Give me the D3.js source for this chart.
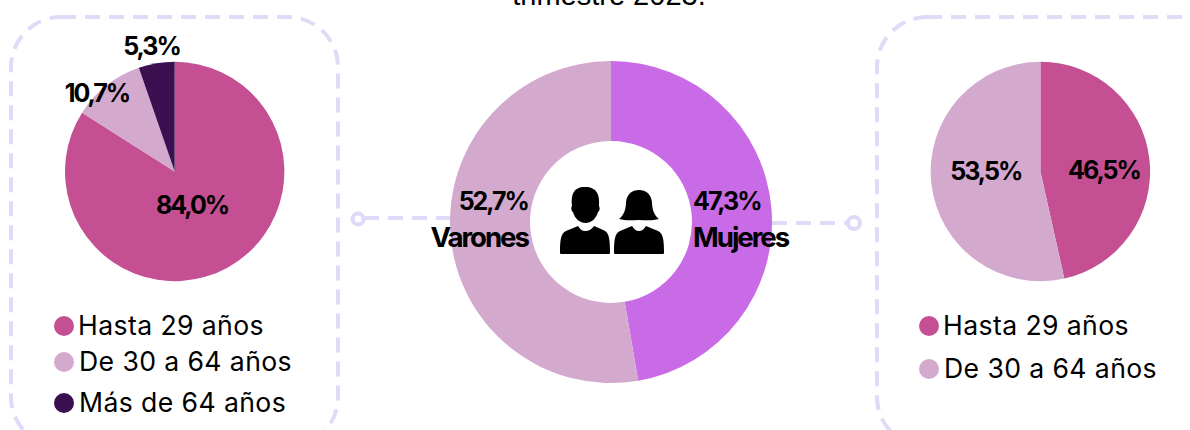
<!DOCTYPE html>
<html lang="es">
<head>
<meta charset="utf-8" />
<title>Empleo por sexo y edad</title>
<script src="https://cdn.jsdelivr.net/npm/d3@7"></script>
<style>
  html,body { margin:0; background:#fff; }
  svg { display:block; font-family:Inter,sans-serif; }
  .frame,.link { fill:none; stroke:#e0d9f7; stroke-width:4px; stroke-dasharray:15 9; }
  .dot { fill:#fff; stroke:#e0d9f7; stroke-width:4px; }
  .val { font-size:25px; font-weight:700; letter-spacing:-2px; fill:#000; text-anchor:middle; }
  .name { font-size:25px; font-weight:700; letter-spacing:-2px; fill:#000; }
  .sex { font-size:27.6px; }
  .leg { font-size:26.6px; font-weight:400; letter-spacing:.4px; fill:#000; }
  .title { font:29px "Liberation Sans",sans-serif; fill:#000; text-anchor:middle; }
</style>
</head>
<body>
<svg id="chart" width="1190" height="430"></svg>
<script>
const ageLabels = ['Hasta 29 años','De 30 a 64 años','Más de 64 años'];
const ageColors = ['#c45093','#d4a9ce','#3a1050'];
const womenAges = [84.0,10.7,5.3];
const menAges = [46.5,53.5];
const sexLabels = ['Mujeres','Varones'];
const sexValues = [47.3,52.7];
const sexColors = ['#c96be6','#d4a9ce'];
const titleText = 'trimestre 2023.';

const svg = d3.select('#chart');
const fmt = v => v.toFixed(1).replace('.',',')+'%';
const pie = d3.pie().sort(null);

svg.append('text').attr('class','title').attr('x',609).attr('y',5).text(titleText);

/* dashed boxes run off the bottom / right of the picture */
svg.append('rect').attr('class','frame').attr('x',11).attr('y',17).attr('width',327).attr('height',430).attr('rx',50);
svg.append('rect').attr('class','frame').attr('x',877).attr('y',17).attr('width',400).attr('height',430).attr('rx',50);

svg.append('path').attr('class','link').attr('d','M364,218H450');
svg.append('circle').attr('class','dot').attr('cx',358).attr('cy',219).attr('r',5.5);
svg.append('path').attr('class','link').attr('d','M772,223H847');
svg.append('circle').attr('class','dot').attr('cx',854).attr('cy',223).attr('r',6);

function agePie(values,cx,cy,r,labelPos){
  const arc = d3.arc().innerRadius(0).outerRadius(r);
  const g = svg.append('g').attr('transform',`translate(${cx},${cy})`);
  const arcs = pie(values);
  g.selectAll('path').data(arcs).join('path')
    .attr('d',arc)
    .attr('fill',(d,i)=>ageColors[i]);
  g.selectAll('text').data(arcs).join('text')
    .attr('class','val')
    .attr('transform',(d,i)=>{
      const p = labelPos[i];
      const c = d3.arc().innerRadius(p[0]).outerRadius(p[0]).centroid(d);
      return `translate(${c[0]+p[1]},${c[1]+p[2]})`;
    })
    .attr('dy','.36em')
    .text(d=>fmt(d.data));
}
agePie(womenAges,174.7,171.5,109.7,[[36,0,1.5],[110,-9.5,8],[128,-2,0.5]]);
agePie(menAges,1040.4,171.5,109.7,[[64,0,5.5],[64,9,-7.5]]);

/* middle donut */
const mid = svg.append('g').attr('transform','translate(611,222)');
const midArc = d3.arc().innerRadius(81).outerRadius(161);
mid.selectAll('path').data(pie(sexValues)).join('path')
  .attr('d',midArc)
  .attr('fill',(d,i)=>sexColors[i]);
[[82,'start'],[-83,'end']].forEach((p,i)=>{
  mid.append('text').attr('class','name').attr('x',p[0]).attr('y',-12)
    .attr('text-anchor',p[1]).text(fmt(sexValues[i]));
  mid.append('text').attr('class','name sex').attr('x',p[0]).attr('y',25)
    .attr('text-anchor',p[1]).text(sexLabels[i]);
});

/* icons */
const man = 'M572,206C571,195 573,187 585,187C597,187 600,195 599,206C600,207 600,211 598,212C596,219 591,223 585.5,223C580,223 575,219 573,212C571,211 571,207 572,206Z'
  +'M560,252C560,240 561,233 566,231C570,229 574,228 578,226C580,229 582,231 585,231C589,231 592,229 594,226C598,228 602,229 605,231C609,233 610,240 610,252C610,253 610,254 609,254H561C560,254 560,253 560,252Z';
const woman = 'M619,219C624,215 626,209 626,202C627,194 632,190 639,190C646,190 651,194 652,202C652,209 654,215 659,219C652,221 645,220 639,220C633,220 626,221 619,219Z'
  +'M614,252C614,240 615,233 620,231C624,229 628,228 632,226C634,229 636,231 639,231C642,231 644,229 646,226C650,228 654,229 658,231C663,233 664,240 664,252C664,253 664,254 663,254H615C614,254 614,253 614,252Z';
svg.append('path').attr('d',man).attr('fill','#000');
svg.append('path').attr('d',woman).attr('fill','#000');

/* legends */
function legend(labels,x,ys){
  labels.forEach((t,i)=>{
    svg.append('circle').attr('cx',x).attr('cy',ys[i]).attr('r',10).attr('fill',ageColors[i]);
    svg.append('text').attr('class','leg').attr('x',x+14+(i?1:0)).attr('y',ys[i]+9).text(t);
  });
}
legend(ageLabels,64,[326,362,403]);
legend(ageLabels.slice(0,2),929,[326,369]);
</script>
</body>
</html>
